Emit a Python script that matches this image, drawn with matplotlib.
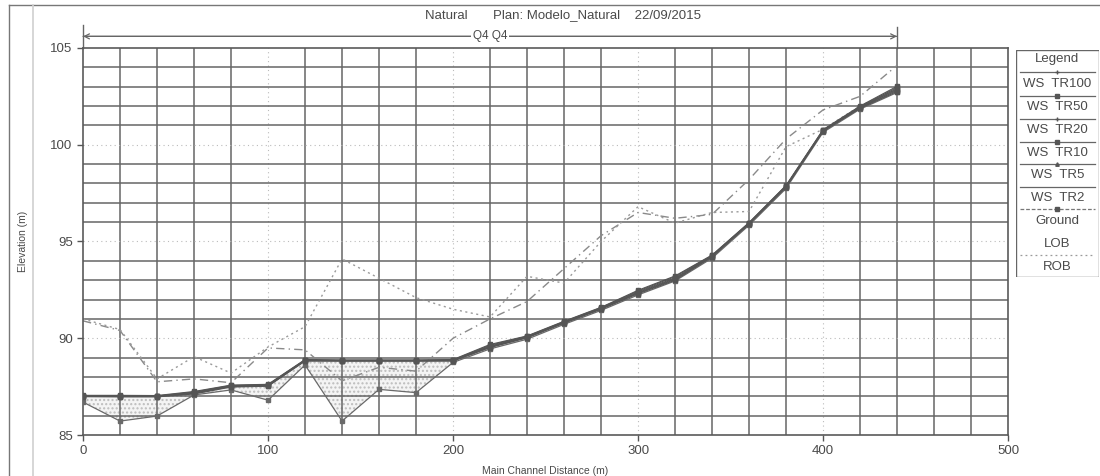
import numpy as np
import matplotlib
matplotlib.use("Agg")
import matplotlib.pyplot as plt
from matplotlib.lines import Line2D
from matplotlib.patches import Rectangle

plt.rcParams["font.family"] = ["Liberation Sans", "DejaVu Sans"]

# river stations (m) along the main channel
stations = [0, 20, 40, 60, 80, 100, 120, 140, 160, 180, 200, 220,
            240, 260, 280, 300, 320, 340, 360, 380, 400, 420, 440]

# water surface profiles (m)
ws_tr100 = [87.05, 87.05, 87.04, 87.25, 87.58, 87.62, 88.90, 88.88, 88.88, 88.88, 88.90, 89.68,
            90.12, 90.88, 91.60, 92.48, 93.22, 94.30, 95.98, 97.90, 100.78, 102.00, 103.02]
ws_tr50 = [87.03, 87.03, 87.02, 87.22, 87.56, 87.60, 88.88, 88.86, 88.86, 88.86, 88.88, 89.64,
           90.10, 90.86, 91.58, 92.44, 93.18, 94.28, 95.96, 97.88, 100.76, 101.97, 102.96]
ws_tr20 = [87.02, 87.02, 87.01, 87.20, 87.54, 87.58, 88.87, 88.85, 88.85, 88.85, 88.87, 89.60,
           90.08, 90.84, 91.56, 92.40, 93.12, 94.26, 95.95, 97.86, 100.74, 101.95, 102.90]
ws_tr10 = [87.01, 87.00, 87.00, 87.17, 87.52, 87.56, 88.86, 88.84, 88.84, 88.84, 88.86, 89.57,
           90.06, 90.82, 91.54, 92.36, 93.08, 94.24, 95.93, 97.84, 100.72, 101.93, 102.85]
ws_tr5 = [87.00, 86.99, 86.99, 87.15, 87.50, 87.54, 88.84, 88.83, 88.83, 88.83, 88.84, 89.54,
          90.04, 90.80, 91.52, 92.33, 93.04, 94.22, 95.92, 97.82, 100.71, 101.90, 102.80]
ws_tr2 = [86.98, 86.97, 86.97, 87.12, 87.48, 87.52, 88.82, 88.82, 88.82, 88.82, 88.82, 89.52,
          90.02, 90.78, 91.50, 92.30, 93.00, 94.20, 95.90, 97.80, 100.70, 101.88, 102.75]

ground = [86.70, 85.72, 85.98, 87.07, 87.33, 86.80, 88.62, 85.72, 87.36, 87.19, 88.75, 89.45,
          89.95, 90.72, 91.44, 92.24, 92.96, 94.14, 95.84, 97.74, 100.64, 101.84, 102.70]

lob = [90.90, 90.40, 87.75, 87.90, 87.70, 89.50, 89.40, 87.80, 88.50, 88.30, 90.00, 91.00,
       91.90, 93.60, 95.30, 96.50, 96.20, 96.40, 98.20, 100.30, 101.80, 102.50, 104.10]
rob = [91.00, 90.45, 87.90, 89.05, 88.20, 89.55, 90.60, 94.10, 93.10, 92.10, 91.50, 91.10,
       93.20, 92.85, 95.00, 96.80, 95.95, 96.50, 96.55, 99.90, 100.80, 102.00, 102.90]

profiles = ["WS TR100", "WS TR50", "WS TR20", "WS TR10", "WS TR5", "WS TR2"]
ws_all = [ws_tr100, ws_tr50, ws_tr20, ws_tr10, ws_tr5, ws_tr2]
ws_markers = ["+", "s", "+", "s", "^", ""]

ink = "#555555"
txt = "#4a4a4a"

fig = plt.figure(figsize=(11, 4.76), dpi=100)
ax = fig.add_axes([0.0755, 0.0861, 0.8409, 0.8131])

x = np.array(stations)
g = np.array(ground)
top = np.array(ws_tr100)

# wetted area between ground and the highest water surface
ax.fill_between(x, g, top, where=top > g, interpolate=True,
                facecolor="#f4f4f4", hatch="....", edgecolor="#bdbdbd", linewidth=0)

# minor grid every 20 m / 1 m, major grid dotted and faint
for xv in range(20, 500, 20):
    if xv % 100 == 0:
        ax.axvline(xv, color="#bbbbbb", lw=0.8, ls=(0, (1, 3)), zorder=1)
    else:
        ax.axvline(xv, color="#666666", lw=1.1, zorder=1)
for yv in range(86, 105):
    if yv % 5 == 0:
        ax.axhline(yv, color="#bbbbbb", lw=0.8, ls=(0, (1, 3)), zorder=1)
    else:
        ax.axhline(yv, color="#666666", lw=1.1, zorder=1)

ax.plot(x, lob, color="#8a8a8a", lw=1.0, ls=(0, (6, 3, 1, 3)), zorder=2)
ax.plot(x, rob, color="#9a9a9a", lw=1.0, ls=(0, (1.5, 2.5)), zorder=2)

ax.plot(x, ground, color="#6a6a6a", lw=0.9, marker="s", ms=2.5, zorder=3)
for ws in ws_all:
    ax.plot(x, ws, color=ink, lw=0.8, marker="s", ms=2.2, zorder=4)

ax.set_xlim(0, 500)
ax.set_ylim(85, 105)
ax.set_xticks([0, 100, 200, 300, 400, 500])
ax.set_yticks([85, 90, 95, 100, 105])
ax.tick_params(colors=ink, labelcolor=txt, labelsize=9.5, length=4, width=1)
for sp in ax.spines.values():
    sp.set_color("#5a5a5a")
    sp.set_linewidth(1.2)

ax.set_xlabel("Main Channel Distance (m)", fontsize=7.5, color=txt, labelpad=6)
ax.set_ylabel("Elevation (m)", fontsize=7.5, color=txt, labelpad=16)

# reach extent marker above the plot
ya = 105.6
ax.annotate("", xy=(0, ya), xytext=(440, ya), xycoords="data",
            arrowprops=dict(arrowstyle="->", color="#666666", lw=0.9,
                            shrinkA=0, shrinkB=0, mutation_scale=9),
            annotation_clip=False)
ax.annotate("", xy=(440, ya), xytext=(0, ya), xycoords="data",
            arrowprops=dict(arrowstyle="->", color="#666666", lw=0.9,
                            shrinkA=0, shrinkB=0, mutation_scale=9),
            annotation_clip=False)
ax.plot([0, 0], [105, 106.2], color="#666666", lw=1.0, clip_on=False)
ax.plot([440, 440], [105, 106.1], color="#666666", lw=1.0, clip_on=False)
ax.text(220, ya, "Q4 Q4", fontsize=8.5, color=txt, ha="center", va="center",
        bbox=dict(facecolor="white", edgecolor="none", pad=1.0))

fig.text(0.386, 0.969, "Natural       Plan: Modelo_Natural    22/09/2015",
         fontsize=9.5, color=txt, ha="left", va="center")

# page frame
fig.add_artist(Line2D([0.008, 0.008], [0, 0.99], color="#777777", lw=1.0))
fig.add_artist(Line2D([0.008, 1.0], [0.99, 0.99], color="#777777", lw=1.0))
fig.add_artist(Line2D([0.030, 0.030], [0, 0.99], color="#d0d0d0", lw=1.2))

# legend box drawn as its own panel
lax = fig.add_axes([0.9236, 0.418, 0.0755, 0.477])
lax.set_xlim(0, 1)
lax.set_ylim(0, 227)
lax.invert_yaxis()
lax.axis("off")
lax.add_patch(Rectangle((0, 0), 1, 227, facecolor="white", edgecolor="#666666", lw=1.0))
lax.text(0.5, 9, "Legend", fontsize=9.5, color=txt, ha="center", va="center")

names = ["WS  TR100", "WS  TR50", "WS  TR20", "WS  TR10", "WS  TR5", "WS  TR2",
         "Ground", "LOB", "ROB"]
label_y = [34, 57, 80, 103, 125, 148, 171, 194, 217]
sample_y = [22, 46, 69, 92, 114, 137, 159, 182, 205]
for i, name in enumerate(names):
    lax.text(0.5, label_y[i], name, fontsize=9.5, color=txt, ha="center", va="center")
    sy = sample_y[i]
    if i < 6:
        lax.plot([0.05, 0.95], [sy, sy], color="#666666", lw=0.9)
        if ws_markers[i]:
            lax.plot([0.5], [sy], marker=ws_markers[i], color="#555555", ms=2.5)
    elif name == "Ground":
        lax.plot([0.05, 0.95], [sy, sy], color="#777777", lw=0.9, ls=(0, (3, 1.5)))
        lax.plot([0.5], [sy], marker="s", color="#555555", ms=2.5)
    elif name == "ROB":
        lax.plot([0.05, 0.95], [sy, sy], color="#9a9a9a", lw=0.9, ls=(0, (1.5, 2.5)))

fig.savefig("out.png", dpi=100)
